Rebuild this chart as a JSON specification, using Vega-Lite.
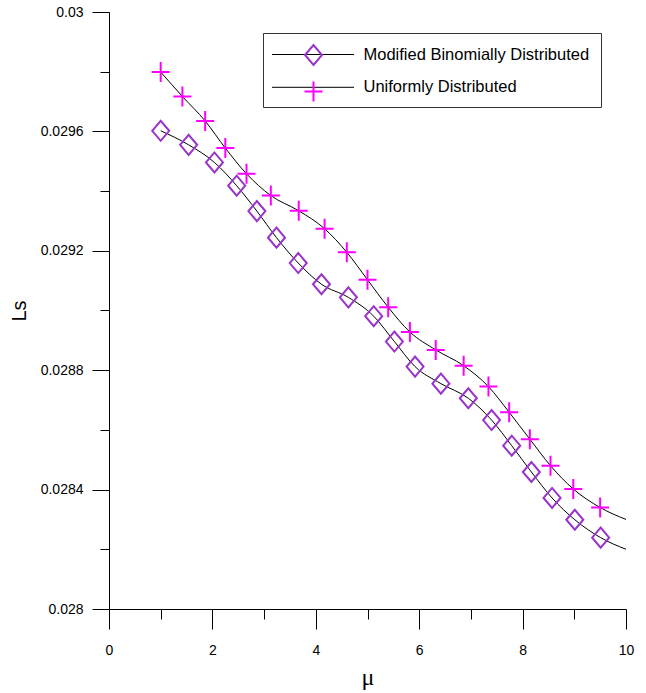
{
  "$schema": "https://vega.github.io/schema/vega-lite/v6.json",
  "width": 517,
  "height": 597,
  "autosize": {"type": "none"},
  "padding": {"left": 109, "top": 12, "right": 20, "bottom": 84},
  "background": "white",
  "config": {
    "view": {"stroke": null},
    "font": "Liberation Sans"
  },
  "datasets": {
    "markers": [
      {"series": "Modified Binomially Distributed", "mu": 1.00, "Ls": 0.029602},
      {"series": "Modified Binomially Distributed", "mu": 1.54, "Ls": 0.029555},
      {"series": "Modified Binomially Distributed", "mu": 2.04, "Ls": 0.029496},
      {"series": "Modified Binomially Distributed", "mu": 2.47, "Ls": 0.029418},
      {"series": "Modified Binomially Distributed", "mu": 2.86, "Ls": 0.029333},
      {"series": "Modified Binomially Distributed", "mu": 3.24, "Ls": 0.029244},
      {"series": "Modified Binomially Distributed", "mu": 3.66, "Ls": 0.029159},
      {"series": "Modified Binomially Distributed", "mu": 4.11, "Ls": 0.029088},
      {"series": "Modified Binomially Distributed", "mu": 4.63, "Ls": 0.029044},
      {"series": "Modified Binomially Distributed", "mu": 5.12, "Ls": 0.028981},
      {"series": "Modified Binomially Distributed", "mu": 5.52, "Ls": 0.028896},
      {"series": "Modified Binomially Distributed", "mu": 5.92, "Ls": 0.028812},
      {"series": "Modified Binomially Distributed", "mu": 6.42, "Ls": 0.028755},
      {"series": "Modified Binomially Distributed", "mu": 6.95, "Ls": 0.028706},
      {"series": "Modified Binomially Distributed", "mu": 7.40, "Ls": 0.028633},
      {"series": "Modified Binomially Distributed", "mu": 7.79, "Ls": 0.028547},
      {"series": "Modified Binomially Distributed", "mu": 8.17, "Ls": 0.028459},
      {"series": "Modified Binomially Distributed", "mu": 8.57, "Ls": 0.028372},
      {"series": "Modified Binomially Distributed", "mu": 9.01, "Ls": 0.028299},
      {"series": "Modified Binomially Distributed", "mu": 9.51, "Ls": 0.028239},
      {"series": "Uniformly Distributed", "mu": 1.00, "Ls": 0.029799},
      {"series": "Uniformly Distributed", "mu": 1.42, "Ls": 0.029717},
      {"series": "Uniformly Distributed", "mu": 1.86, "Ls": 0.029635},
      {"series": "Uniformly Distributed", "mu": 2.25, "Ls": 0.029544},
      {"series": "Uniformly Distributed", "mu": 2.66, "Ls": 0.029458},
      {"series": "Uniformly Distributed", "mu": 3.13, "Ls": 0.029385},
      {"series": "Uniformly Distributed", "mu": 3.67, "Ls": 0.029334},
      {"series": "Uniformly Distributed", "mu": 4.17, "Ls": 0.029274},
      {"series": "Uniformly Distributed", "mu": 4.60, "Ls": 0.029195},
      {"series": "Uniformly Distributed", "mu": 5.00, "Ls": 0.029103},
      {"series": "Uniformly Distributed", "mu": 5.40, "Ls": 0.029011},
      {"series": "Uniformly Distributed", "mu": 5.82, "Ls": 0.028928},
      {"series": "Uniformly Distributed", "mu": 6.32, "Ls": 0.028868},
      {"series": "Uniformly Distributed", "mu": 6.86, "Ls": 0.028815},
      {"series": "Uniformly Distributed", "mu": 7.34, "Ls": 0.028745},
      {"series": "Uniformly Distributed", "mu": 7.74, "Ls": 0.028659},
      {"series": "Uniformly Distributed", "mu": 8.14, "Ls": 0.028569},
      {"series": "Uniformly Distributed", "mu": 8.54, "Ls": 0.028480},
      {"series": "Uniformly Distributed", "mu": 8.98, "Ls": 0.028402},
      {"series": "Uniformly Distributed", "mu": 9.50, "Ls": 0.028340}
    ],
    "curves": [
      {"curve": "Modified Binomially Distributed", "mu": 1.00, "Ls": 0.029602},
      {"curve": "Modified Binomially Distributed", "mu": 1.54, "Ls": 0.029555},
      {"curve": "Modified Binomially Distributed", "mu": 2.04, "Ls": 0.029496},
      {"curve": "Modified Binomially Distributed", "mu": 2.47, "Ls": 0.029418},
      {"curve": "Modified Binomially Distributed", "mu": 2.86, "Ls": 0.029333},
      {"curve": "Modified Binomially Distributed", "mu": 3.24, "Ls": 0.029244},
      {"curve": "Modified Binomially Distributed", "mu": 3.66, "Ls": 0.029159},
      {"curve": "Modified Binomially Distributed", "mu": 4.11, "Ls": 0.029088},
      {"curve": "Modified Binomially Distributed", "mu": 4.63, "Ls": 0.029044},
      {"curve": "Modified Binomially Distributed", "mu": 5.12, "Ls": 0.028981},
      {"curve": "Modified Binomially Distributed", "mu": 5.52, "Ls": 0.028896},
      {"curve": "Modified Binomially Distributed", "mu": 5.92, "Ls": 0.028812},
      {"curve": "Modified Binomially Distributed", "mu": 6.42, "Ls": 0.028755},
      {"curve": "Modified Binomially Distributed", "mu": 6.95, "Ls": 0.028706},
      {"curve": "Modified Binomially Distributed", "mu": 7.40, "Ls": 0.028633},
      {"curve": "Modified Binomially Distributed", "mu": 7.79, "Ls": 0.028547},
      {"curve": "Modified Binomially Distributed", "mu": 8.17, "Ls": 0.028459},
      {"curve": "Modified Binomially Distributed", "mu": 8.57, "Ls": 0.028372},
      {"curve": "Modified Binomially Distributed", "mu": 9.01, "Ls": 0.028299},
      {"curve": "Modified Binomially Distributed", "mu": 9.51, "Ls": 0.028239},
      {"curve": "Modified Binomially Distributed", "mu": 10.0, "Ls": 0.028200},
      {"curve": "Uniformly Distributed", "mu": 1.00, "Ls": 0.029799},
      {"curve": "Uniformly Distributed", "mu": 1.42, "Ls": 0.029717},
      {"curve": "Uniformly Distributed", "mu": 1.86, "Ls": 0.029635},
      {"curve": "Uniformly Distributed", "mu": 2.25, "Ls": 0.029544},
      {"curve": "Uniformly Distributed", "mu": 2.66, "Ls": 0.029458},
      {"curve": "Uniformly Distributed", "mu": 3.13, "Ls": 0.029385},
      {"curve": "Uniformly Distributed", "mu": 3.67, "Ls": 0.029334},
      {"curve": "Uniformly Distributed", "mu": 4.17, "Ls": 0.029274},
      {"curve": "Uniformly Distributed", "mu": 4.60, "Ls": 0.029195},
      {"curve": "Uniformly Distributed", "mu": 5.00, "Ls": 0.029103},
      {"curve": "Uniformly Distributed", "mu": 5.40, "Ls": 0.029011},
      {"curve": "Uniformly Distributed", "mu": 5.82, "Ls": 0.028928},
      {"curve": "Uniformly Distributed", "mu": 6.32, "Ls": 0.028868},
      {"curve": "Uniformly Distributed", "mu": 6.86, "Ls": 0.028815},
      {"curve": "Uniformly Distributed", "mu": 7.34, "Ls": 0.028745},
      {"curve": "Uniformly Distributed", "mu": 7.74, "Ls": 0.028659},
      {"curve": "Uniformly Distributed", "mu": 8.14, "Ls": 0.028569},
      {"curve": "Uniformly Distributed", "mu": 8.54, "Ls": 0.028480},
      {"curve": "Uniformly Distributed", "mu": 8.98, "Ls": 0.028402},
      {"curve": "Uniformly Distributed", "mu": 9.50, "Ls": 0.028340},
      {"curve": "Uniformly Distributed", "mu": 10.0, "Ls": 0.028300}
    ]
  },
  "encoding": {
    "x": {
      "field": "mu",
      "type": "quantitative",
      "scale": {"domain": [0, 10], "nice": false, "zero": false},
      "axis": {
        "title": "μ",
        "titleFont": "Liberation Serif",
        "titleFontSize": 24,
        "titleFontWeight": "normal",
        "titleColor": "black",
        "titlePadding": 8,
        "values": [0, 1, 2, 3, 4, 5, 6, 7, 8, 9, 10],
        "labelExpr": "datum.value % 2 === 0 ? datum.label : ''",
        "labelFontSize": 14,
        "labelColor": "black",
        "labelPadding": 14,
        "labelFlush": false,
        "tickSize": {"condition": {"test": "datum.value % 2 === 0", "value": 20}, "value": 10},
        "tickColor": "black",
        "domainColor": "black",
        "grid": false
      }
    },
    "y": {
      "field": "Ls",
      "type": "quantitative",
      "scale": {"domain": [0.028, 0.03], "nice": false, "zero": false},
      "axis": {
        "title": "Ls",
        "titleFontSize": 20,
        "titleFontWeight": "normal",
        "titleColor": "black",
        "titlePadding": 11,
        "values": [0.028, 0.0282, 0.0284, 0.0286, 0.0288, 0.029, 0.0292, 0.0294, 0.0296, 0.0298, 0.03],
        "labelExpr": "round(datum.value * 10000) % 4 === 0 ? '' + datum.value : ''",
        "labelFontSize": 14,
        "labelColor": "black",
        "labelPadding": 9,
        "labelFlush": false,
        "tickSize": {"condition": {"test": "round(datum.value * 10000) % 4 === 0", "value": 17}, "value": 9},
        "tickColor": "black",
        "domainColor": "black",
        "grid": false
      }
    }
  },
  "layer": [
    {
      "data": {"name": "curves"},
      "mark": {"type": "line", "interpolate": "monotone", "strokeWidth": 1},
      "encoding": {
        "stroke": {
          "field": "curve",
          "type": "nominal",
          "scale": {"range": ["black", "black"]},
          "legend": {
            "title": null,
            "orient": "none",
            "legendX": 154,
            "legendY": 21,
            "padding": 11,
            "rowPadding": 13.8,
            "strokeColor": "#333",
            "fillColor": "white",
            "symbolType": "M-4.1,0H4.1",
            "symbolSize": 400,
            "symbolOffset": 28.5,
            "symbolStrokeWidth": 1,
            "symbolStrokeColor": "black",
            "labelOffset": 40,
            "labelFontSize": 16.5,
            "labelColor": "black",
            "labelLimit": 400,
            "zindex": 0
          }
        }
      }
    },
    {
      "data": {"name": "markers"},
      "mark": {"type": "point", "filled": false, "size": 400, "strokeWidth": 2, "opacity": 1},
      "encoding": {
        "color": {
          "field": "series",
          "type": "nominal",
          "scale": {"range": ["#9933CC", "#FF00FF"]},
          "legend": {
            "title": null,
            "orient": "none",
            "legendX": 154,
            "legendY": 21,
            "padding": 11,
            "rowPadding": 8.4,
            "symbolSize": 400,
            "symbolOffset": 28.5,
            "symbolStrokeWidth": 2,
            "labelExpr": "''",
            "labelOffset": 40,
            "labelFontSize": 16.5,
            "labelLimit": 400,
            "zindex": 1,
            "encode": {"symbols": {"update": {"fill": {"value": "white"}}}}
          }
        },
        "shape": {
          "field": "series",
          "type": "nominal",
          "scale": {"range": ["M-0.85,0L0,-1L0.85,0L0,1Z", "M-0.9,0H0.9M0,-1V1"]}
        }
      }
    }
  ]
}
